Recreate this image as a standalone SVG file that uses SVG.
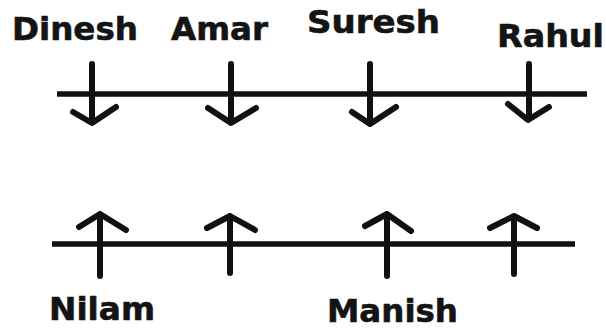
<svg xmlns="http://www.w3.org/2000/svg" width="606" height="329" viewBox="0 0 606 329">
  <style>
    .lbl { font-family: "DejaVu Sans", Verdana, sans-serif; font-weight: bold; font-size: 32px; fill: #141414; stroke: #141414; stroke-width: 0.6px; }
    .rail { stroke: #111; stroke-width: 5.5; fill: none; }
    .arr { stroke: #111; stroke-width: 6; fill: none; stroke-linecap: round; stroke-linejoin: round; }
  </style>
  <rect width="606" height="329" fill="#fff"/>
  <g id="connectors">
    <line class="rail" x1="57" y1="94" x2="587" y2="94"/>
    <line class="rail" x1="52" y1="244" x2="575" y2="244"/>
  </g>
  <g id="Dinesh">
    <text class="lbl" x="12" y="40" textLength="126" lengthAdjust="spacingAndGlyphs">Dinesh</text>
    <path class="arr" d="M92 64 V122 M73 112 L92 123 L116 107"/>
  </g>
  <g id="Amar">
    <text class="lbl" x="171" y="40" textLength="97" lengthAdjust="spacingAndGlyphs">Amar</text>
    <path class="arr" d="M231 64 V122 M208 108 L231 123 L256 108"/>
  </g>
  <g id="Suresh">
    <text class="lbl" x="307" y="33" textLength="133" lengthAdjust="spacingAndGlyphs">Suresh</text>
    <path class="arr" d="M370 64 V123 M352 112 L370 124 L396 107"/>
  </g>
  <g id="Rahul">
    <text class="lbl" x="497" y="47" textLength="107" lengthAdjust="spacingAndGlyphs">Rahul</text>
    <path class="arr" d="M529 64 V119 M508 104 L528 120 L549 107"/>
  </g>
  <g id="Nilam">
    <text class="lbl" x="49" y="320" textLength="106" lengthAdjust="spacingAndGlyphs">Nilam</text>
    <path class="arr" d="M100 214 V276 M79 227 L100 214 L126 230"/>
  </g>
  <g id="node-2">
    <path class="arr" d="M230 216 V273 M207 228 L230 216 L255 230"/>
  </g>
  <g id="Manish">
    <text class="lbl" x="327" y="322" textLength="131" lengthAdjust="spacingAndGlyphs">Manish</text>
    <path class="arr" d="M387 214 V276 M365 226 L387 214 L411 231"/>
  </g>
  <g id="node-4">
    <path class="arr" d="M514 216 V274 M490 228 L514 216 L537 228"/>
  </g>
</svg>
